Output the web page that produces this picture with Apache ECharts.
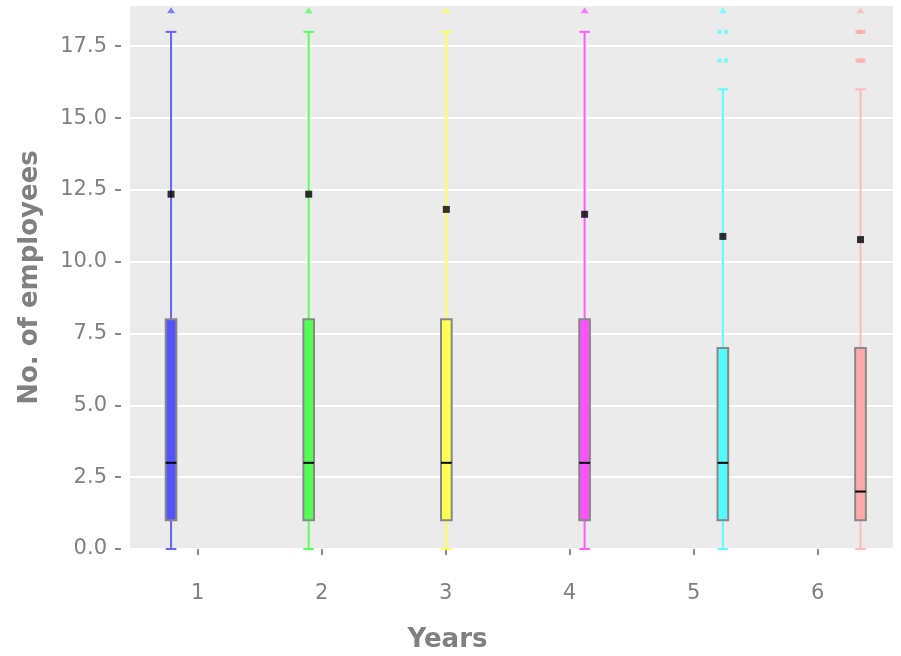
<!DOCTYPE html>
<html>
<head>
<meta charset="utf-8">
<script src="https://cdn.jsdelivr.net/npm/echarts@6/dist/echarts.min.js"></script>
<style>
  html, body { margin: 0; padding: 0; background: #ffffff; }
  #chart { width: 901px; height: 656px; }
</style>
</head>
<body>
<div id="chart"></div>
<script>
// Years shown on the x axis
const years = [1, 2, 3, 4, 5, 6];
// Tick values on the y axis
const yTicks = [0, 2.5, 5, 7.5, 10, 12.5, 15, 17.5];
// Dodged position of each year's box on the x scale
const boxPositions = [0.785, 1.895, 3.005, 4.12, 5.235, 6.345];
// Five-number summaries per year: [lower whisker, Q1, median, Q3, upper whisker]
const lowerWhisker = [0, 0, 0, 0, 0, 0];
const q1Values = [1, 1, 1, 1, 1, 1];
const medianValues = [3, 3, 3, 3, 3, 2];
const q3Values = [8, 8, 8, 8, 7, 7];
const upperWhisker = [18, 18, 18, 18, 16, 16];
// Mean number of employees per year
const meanValues = [12.35, 12.35, 11.82, 11.65, 10.88, 10.77];
// Outliers inside the visible range: [x position, value]
const outliersYear5 = [[5.21, 18], [5.26, 18], [5.21, 17], [5.26, 17]];
const outliersYear6 = [[6.325, 18], [6.345, 18], [6.365, 18], [6.325, 17], [6.345, 17], [6.365, 17]];
// Outliers above the y-axis limit, flagged at the top edge
const clippedValue = 18.75;

const fillColors = ['#5353ff', '#53ff53', '#ffff53', '#ff53ff', '#53ffff', '#ffaaaa'];
const lineColors = ['#6464ff', '#5cff5c', '#ffff5c', '#ff5cff', '#5cffff', '#ffbaba'];

const boxData = years.map((y, i) => [boxPositions[i], lowerWhisker[i], q1Values[i], medianValues[i], q3Values[i], upperWhisker[i], i]);
const meanData = years.map((y, i) => [boxPositions[i], meanValues[i]]);
const clippedData = years.map((y, i) => ({ value: [boxPositions[i], clippedValue], itemStyle: { color: lineColors[i] } }));

const BOX_WIDTH = 0.086;

function renderBox(params, api) {
  const x = api.value(0);
  const idx = api.value(6);
  const half = api.size([BOX_WIDTH, 0])[0] / 2;
  const pLow = api.coord([x, api.value(1)]);
  const pQ1 = api.coord([x, api.value(2)]);
  const pMed = api.coord([x, api.value(3)]);
  const pQ3 = api.coord([x, api.value(4)]);
  const pHigh = api.coord([x, api.value(5)]);
  const cx = pLow[0];
  const lc = lineColors[idx];
  const wStyle = { stroke: lc, lineWidth: 2 };
  return {
    type: 'group',
    children: [
      { type: 'line', shape: { x1: cx, y1: pHigh[1], x2: cx, y2: pQ3[1] }, style: wStyle },
      { type: 'line', shape: { x1: cx, y1: pQ1[1], x2: cx, y2: pLow[1] }, style: wStyle },
      { type: 'line', shape: { x1: cx - half, y1: pHigh[1], x2: cx + half, y2: pHigh[1] }, style: wStyle },
      { type: 'line', shape: { x1: cx - half, y1: pLow[1], x2: cx + half, y2: pLow[1] }, style: wStyle },
      { type: 'rect', shape: { x: cx - half, y: pQ3[1], width: half * 2, height: pQ1[1] - pQ3[1] },
        style: { fill: fillColors[idx], stroke: '#888888', lineWidth: 2 } },
      { type: 'line', shape: { x1: cx - half, y1: pMed[1], x2: cx + half, y2: pMed[1] },
        style: { stroke: '#000000', lineWidth: 2 } }
    ]
  };
}

const chart = echarts.init(document.getElementById('chart'), null, { renderer: 'canvas' });
const axisTextColor = '#808080';
const fontFamily = '"DejaVu Sans", Verdana, sans-serif';

chart.setOption({
  backgroundColor: '#ffffff',
  animation: false,
  grid: {
    left: 130, right: 8, top: 6, bottom: 107,
    outerBoundsMode: 'none', containLabel: false,
    show: true, backgroundColor: '#ebebeb', borderWidth: 0
  },
  xAxis: {
    type: 'value',
    min: 0.454,
    max: 6.607,
    offset: 8,
    name: 'Years',
    nameLocation: 'middle',
    nameGap: 70,
    nameTextStyle: {
      color: axisTextColor, fontSize: 26, fontWeight: 'bold', fontFamily: fontFamily,
      padding: [0, 128, 0, 0]
    },
    axisLine: { show: false },
    axisTick: { show: true, length: 6, customValues: years, lineStyle: { color: '#888888', width: 2 } },
    axisLabel: { customValues: years, margin: 26, color: axisTextColor, fontSize: 21, fontFamily: fontFamily },
    splitLine: { show: false }
  },
  yAxis: {
    type: 'value',
    min: 0,
    max: 18.9,
    interval: 2.5,
    offset: 9,
    name: 'No. of employees',
    nameLocation: 'middle',
    nameGap: 78,
    nameTextStyle: { color: axisTextColor, fontSize: 26, fontWeight: 'bold', fontFamily: fontFamily },
    axisLine: { show: false },
    axisTick: { show: true, length: 6, customValues: yTicks, lineStyle: { color: '#888888', width: 2 } },
    axisLabel: {
      customValues: yTicks,
      margin: 14, color: axisTextColor, fontSize: 21, fontFamily: fontFamily,
      formatter: v => v.toFixed(1)
    },
    splitLine: { show: true, lineStyle: { color: '#ffffff', width: 2 } }
  },
  series: [
    {
      type: 'custom',
      renderItem: renderBox,
      encode: { x: 0, y: [1, 2, 3, 4, 5] },
      data: boxData,
      z: 3
    },
    {
      type: 'scatter',
      symbol: 'rect',
      symbolSize: 7,
      itemStyle: { color: '#000000' },
      data: meanData,
      z: 5
    },
    {
      type: 'scatter',
      symbol: 'rect',
      symbolSize: 4,
      itemStyle: { color: fillColors[4] },
      data: outliersYear5,
      z: 4
    },
    {
      type: 'scatter',
      symbol: 'rect',
      symbolSize: [5, 4],
      itemStyle: { color: fillColors[5] },
      data: outliersYear6,
      z: 4
    },
    {
      type: 'scatter',
      symbol: 'triangle',
      symbolSize: [8, 6],
      data: clippedData,
      z: 4
    }
  ]
});
</script>
</body>
</html>
